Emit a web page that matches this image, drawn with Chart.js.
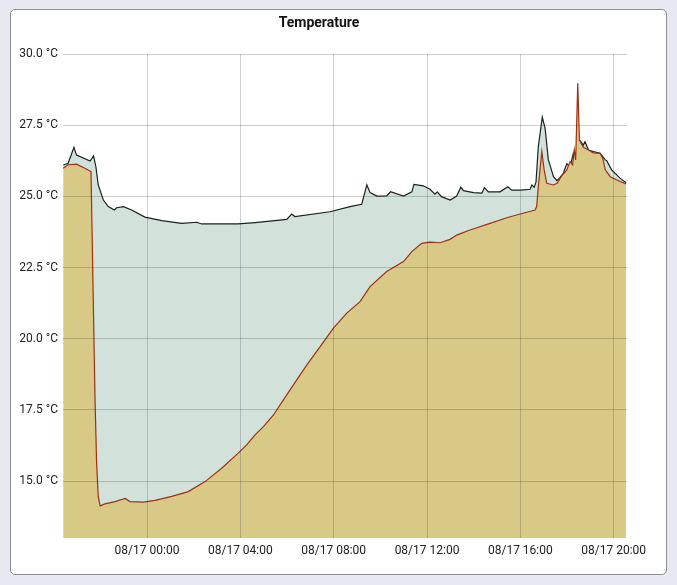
<!DOCTYPE html>
<html>
<head>
<meta charset="utf-8">
<script src="https://cdn.jsdelivr.net/npm/chart.js@4.4.0/dist/chart.umd.min.js"></script>
<style>
  html, body { margin: 0; padding: 0; background: #e8e8f1; }
  #card {
    position: absolute; left: 10px; top: 9px; width: 655px; height: 564px;
    background: #fff; border: 1px solid #8c8c96; border-radius: 5px;
  }
  #chart { position: absolute; left: 0; top: 0; }
</style>
</head>
<body>
<div id="card"><canvas id="chart" width="655" height="564"></canvas></div>
<script>
// hours relative to 08/17 00:00
const indoorHours = [-3.59, -3.38, -3.13, -3.02, -2.44, -2.29, -2.19, -2.09, -1.87, -1.66, -1.40, -1.30, -1.01, -0.66, -0.09,
  0.63, 1.49, 2.13, 2.34, 3.91, 4.63, 5.99, 6.20, 6.34, 7.84, 8.70, 9.20, 9.42, 9.56, 9.85, 10.27, 10.44, 10.99,
  11.35, 11.44, 11.84, 12.13, 12.34, 12.44, 12.62, 12.99, 13.27, 13.45, 13.56, 13.99, 14.35, 14.46, 14.63, 15.13,
  15.46, 15.63, 15.99, 16.42, 16.49, 16.59, 16.67, 16.77, 16.94, 17.06, 17.20, 17.42, 17.57, 17.70, 17.84, 17.99,
  18.13, 18.27, 18.35, 18.49, 18.56, 18.70, 18.77, 18.92, 19.13, 19.42, 19.64, 19.70, 19.91, 20.27, 20.53];
const indoorTemp = [26.10, 26.16, 26.72, 26.45, 26.24, 26.42, 26.04, 25.40, 24.87, 24.64, 24.52, 24.60, 24.64, 24.52, 24.27,
  24.15, 24.05, 24.09, 24.03, 24.03, 24.08, 24.19, 24.38, 24.29, 24.46, 24.64, 24.72, 25.40, 25.13, 25.01, 25.02, 25.16, 25.01,
  25.16, 25.42, 25.37, 25.25, 25.08, 25.16, 24.99, 24.87, 25.01, 25.32, 25.20, 25.13, 25.11, 25.31, 25.16, 25.16,
  25.34, 25.22, 25.22, 25.25, 25.40, 25.32, 25.50, 26.75, 27.78, 27.39, 26.28, 25.69, 25.55, 25.67, 25.81, 26.14,
  26.04, 26.51, 26.30, 26.92, 26.95, 26.80, 26.92, 26.63, 26.57, 26.51, 26.28, 26.25, 25.93, 25.64, 25.48];

const outdoorHours = [-3.59, -3.38, -3.02, -2.66, -2.40, -2.23, -2.16, -2.09, -2.01, -1.80, -1.37, -0.94, -0.73, -0.16,
  0.34, 1.06, 1.77, 2.49, 3.20, 3.91, 4.27, 4.63, 4.99, 5.42, 6.13, 6.85, 7.42, 7.99, 8.56, 9.13, 9.56, 10.27, 10.99,
  11.35, 11.77, 12.13, 12.56, 12.99, 13.27, 13.84, 14.70, 15.42, 15.99, 16.63, 16.70, 16.77, 16.92, 17.02, 17.13,
  17.42, 17.57, 17.77, 17.99, 18.13, 18.24, 18.31, 18.37, 18.46, 18.53, 18.70, 18.92, 19.13, 19.42, 19.53, 19.64,
  19.85, 20.27, 20.53];
const outdoorTemp = [25.99, 26.11, 26.13, 25.99, 25.87, 17.97, 15.64, 14.46, 14.13, 14.20, 14.28, 14.39, 14.28, 14.26,
  14.32, 14.46, 14.63, 14.98, 15.45, 15.98, 16.27, 16.62, 16.91, 17.32, 18.20, 19.08, 19.72, 20.37, 20.90, 21.30, 21.83, 22.36, 22.71,
  23.06, 23.35, 23.39, 23.37, 23.49, 23.64, 23.82, 24.05, 24.25, 24.38, 24.52, 24.64, 25.34, 26.57, 25.93, 25.46,
  25.40, 25.46, 25.72, 25.93, 26.22, 26.10, 26.63, 26.28, 28.97, 26.98, 26.72, 26.63, 26.53, 26.51, 26.34, 25.93,
  25.69, 25.52, 25.44];

const xTickHours = [0, 4, 8, 12, 16, 20];
const xTickLabels = ['08/17 00:00', '08/17 04:00', '08/17 08:00', '08/17 12:00', '08/17 16:00', '08/17 20:00'];
const yTicks = [15, 17.5, 20, 22.5, 25, 27.5, 30];

const toPoints = (xs, ys) => xs.map((x, i) => ({ x: x, y: ys[i] }));
const tickFont = { family: 'Roboto', size: 12 };

new Chart(document.getElementById('chart'), {
    type: 'line',
    data: {
        datasets: [{
            label: 'Outdoor',
            data: toPoints(outdoorHours, outdoorTemp),
            borderColor: '#a0300e',
            backgroundColor: '#d8ca86',
            borderWidth: 1.2,
            pointRadius: 0,
            tension: 0,
            fill: 'start'
        }, {
            label: 'Indoor',
            data: toPoints(indoorHours, indoorTemp),
            borderColor: '#16241c',
            backgroundColor: '#d2e1d9',
            borderWidth: 1.2,
            pointRadius: 0,
            tension: 0,
            fill: 'start'
        }]
    },
    options: {
        responsive: false,
        animation: false,
        layout: { padding: { left: 0, right: 39, top: 0, bottom: 0 } },
        plugins: {
            legend: { display: false },
            tooltip: { enabled: false },
            title: {
                display: true,
                text: 'Temperature',
                color: '#111',
                font: { family: 'Roboto', size: 14, weight: 'bold' },
                padding: { top: 5, bottom: 22.2 }
            }
        },
        scales: {
            x: {
                type: 'linear',
                min: -3.6,
                max: 20.57,
                afterBuildTicks: (scale) => { scale.ticks = xTickHours.map(v => ({ value: v })); },
                afterFit: (scale) => { scale.height = 36; },
                grid: { color: 'rgba(20, 20, 60, 0.2)', drawTicks: false, z: 1 },
                border: { display: false },
                ticks: {
                    padding: 6,
                    color: '#222',
                    font: tickFont,
                    maxRotation: 0,
                    callback: (v) => xTickLabels[xTickHours.indexOf(v)]
                }
            },
            y: {
                min: 13,
                max: 30,
                afterBuildTicks: (scale) => { scale.ticks = yTicks.map(v => ({ value: v })); },
                afterFit: (scale) => { scale.width = 52; },
                grid: { color: 'rgba(20, 20, 20, 0.2)', drawTicks: false, z: 1 },
                border: { display: false },
                ticks: {
                    padding: 5,
                    color: '#222',
                    font: tickFont,
                    callback: (v) => v.toFixed(1) + ' °C'
                }
            }
        }
    }
});
</script>
</body>
</html>
